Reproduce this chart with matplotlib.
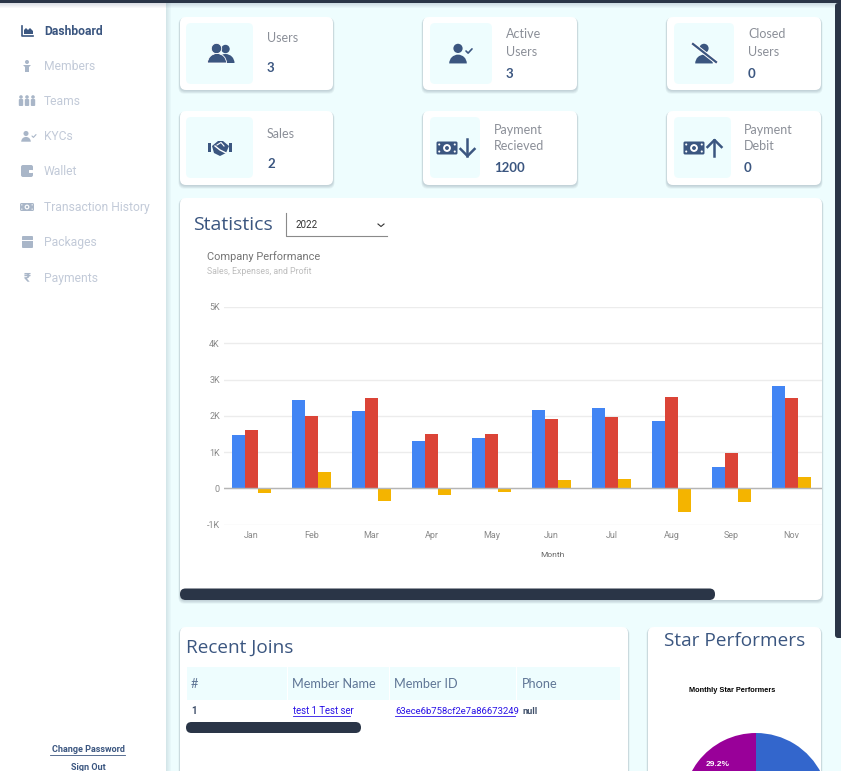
import numpy as np
import matplotlib
matplotlib.use("Agg")
import matplotlib.pyplot as plt
from matplotlib.patches import FancyBboxPatch, Rectangle, Circle, Wedge, Polygon

W = 841
H = 771

# chart values
months = ['Jan', 'Feb', 'Mar', 'Apr', 'May', 'Jun', 'Jul', 'Aug', 'Sep', 'Nov']
sales = [1460, 2440, 2130, 1300, 1380, 2150, 2210, 1850, 590, 2830]
expenses = [1600, 1980, 2500, 1490, 1490, 1910, 1960, 2510, 980, 2500]
profit = [-130, 450, -360, -190, -100, 230, 250, -660, -390, 320]
y_ticks = [-1000, 0, 1000, 2000, 3000, 4000, 5000]
y_labels = ['-1K', '0', '1K', '2K', '3K', '4K', '5K']

pie_values = [70.8, 29.2]
pie_colors = ['#3366cc', '#990099']

menu_items = ['Dashboard', 'Members', 'Teams', 'KYCs', 'Wallet',
              'Transaction History', 'Packages', 'Payments']
menu_y = [31, 66, 101, 136, 171, 207, 242, 278]

table_head = ['#', 'Member Name', 'Member ID', 'Phone']
table_row = ['1', 'test 1 Test ser', '63ece6b758cf2e7a86673249', 'null']

NAVY = '#3b5680'
DARK = '#2a3547'
TILE = '#eefdfe'
GREY = '#8b8f98'
ICON_OFF = '#a9b6c8'
TEXT_OFF = '#c2cad8'

fig = plt.figure(figsize=(W / 100, H / 100), dpi=100, facecolor=TILE)
ax = fig.add_axes([0, 0, 1, 1])
ax.set_xlim(0, W)
ax.set_ylim(H, 0)
ax.axis('off')


def px_axes(left, top, right, bottom):
    return fig.add_axes([left / W, 1 - bottom / H, (right - left) / W, (bottom - top) / H])


def rrect(x0, y0, x1, y1, r, color, z=2, alpha=1):
    p = FancyBboxPatch((x0 + r, y0 + r), x1 - x0 - 2 * r, y1 - y0 - 2 * r,
                       boxstyle='round,pad=%f,rounding_size=%f' % (r, r),
                       fc=color, ec='none', lw=0, alpha=alpha, zorder=z)
    ax.add_patch(p)


def card(x0, y0, x1, y1):
    for i in range(5, 0, -1):
        rrect(x0 - i * 0.3, y0 + 1, x1 + i * 0.3, y1 + i * 0.75, 6, '#4a6072', z=1, alpha=0.06)
    rrect(x0, y0, x1, y1, 6, 'white')


def txt(x, y, s, size=9, color=GREY, weight='normal', family='Nunito', ha='left'):
    fams = {'Nunito': ['Lato', 'DejaVu Sans'], 'Roboto': ['Roboto', 'DejaVu Sans'],
            'Open': ['Open Sans', 'DejaVu Sans'], 'Arial': ['Liberation Sans', 'DejaVu Sans']}
    return ax.text(x, y, s, fontsize=size, color=color, fontweight=weight,
                   family=fams[family], ha=ha, va='center', zorder=6)


def person(x, y, s, color=NAVY, z=5):
    # head and shoulders, y is the middle of the icon
    ax.add_patch(Circle((x, y - 0.42 * s), 0.42 * s, fc=color, ec='none', zorder=z))
    ax.add_patch(Wedge((x, y + 0.95 * s), 0.8 * s, 180, 360, fc=color, ec='none', zorder=z))


def check(x, y, s, color=NAVY, lw=1.2):
    ax.plot([x - s, x - 0.3 * s, x + s], [y, y + 0.7 * s, y - 0.7 * s],
            color=color, lw=lw, zorder=5, solid_capstyle='round')


def money(x, y, w, h, color=NAVY, z=5):
    rrect(x - w / 2, y - h / 2, x + w / 2, y + h / 2, 1.5, color, z=z)
    ax.add_patch(Circle((x, y), h * 0.3, fc='white', ec='none', zorder=z + 1))
    ax.add_patch(Circle((x, y), h * 0.15, fc=color, ec='none', zorder=z + 1))
    for dx in (-w * 0.37, w * 0.37):
        for dy in (-h * 0.27, h * 0.27):
            ax.add_patch(Circle((x + dx, y + dy), h * 0.08, fc='white', ec='none', zorder=z + 1))


def arrow(x, y0, y1, color=NAVY):
    # shaft from y0 to y1, head at y1
    d = 1 if y1 > y0 else -1
    ax.plot([x, x], [y0, y1], color=color, lw=1.8, zorder=5)
    ax.plot([x - 7, x, x + 7], [y1 - d * 7, y1, y1 - d * 7], color=color, lw=1.8, zorder=5)


def menu_icon(i, y, c):
    x = 27
    if i == 0:
        ax.plot([22, 22, 33], [y - 5, y + 5, y + 5], color=c, lw=1.2, zorder=5)
        ax.add_patch(Polygon([[24, y + 3], [24, y - 1], [26, y - 3], [28, y - 1], [30, y - 3],
                              [33, y], [33, y + 3]], fc=c, ec='none', zorder=5))
    elif i == 1:
        ax.add_patch(Circle((x, y - 4), 2, fc=c, ec='none', zorder=5))
        ax.add_patch(Polygon([[x - 4, y - 1], [x + 4, y - 1], [x + 2, y + 1], [x + 2, y + 6],
                              [x - 2, y + 6], [x - 2, y + 1]], fc=c, ec='none', zorder=5))
    elif i == 2:
        for dx in (-6, 0, 6):
            ax.add_patch(Circle((x + dx, y - 4), 1.8, fc=c, ec='none', zorder=5))
            rrect(x + dx - 2.2, y - 2, x + dx + 2.2, y + 5, 1, c, z=5)
    elif i == 3:
        person(x - 1, y, 6, color=c)
        check(x + 7, y, 2, color=c, lw=0.8)
    elif i == 4:
        rrect(21, y - 6, 33, y + 6, 2, c, z=5)
        rrect(29, y - 1, 33, y + 2, 0.5, 'white', z=6)
    elif i == 5:
        money(x, y, 14, 8, color=c)
    elif i == 6:
        rrect(22, y - 3, 33, y + 6, 1, c, z=5)
        rrect(22, y - 6, 33, y - 2, 1, c, z=5)
        ax.plot([22, 33], [y - 2, y - 2], color='white', lw=0.7, zorder=6)
    else:
        txt(x, y, '₹', 9.5, c, 'bold', 'Roboto', ha='center')


# sidebar and top bar
ax.add_patch(Rectangle((0, 0), 166, H, fc='white', ec='none', zorder=1))
for i in range(5):
    ax.add_patch(Rectangle((166 + i, 0), 1, H, fc='#52707f', ec='none', alpha=0.16 - i * 0.03, zorder=1))
    ax.add_patch(Rectangle((0, 3 + i), W, 1, fc='#52607f', ec='none', alpha=0.2 - i * 0.04, zorder=1.5))
ax.add_patch(Rectangle((0, 0), W, 3, fc=DARK, ec='none', zorder=7))

for i, (name, y) in enumerate(zip(menu_items, menu_y)):
    active = i == 0
    menu_icon(i, y, NAVY if active else ICON_OFF)
    txt(44, y + 0.7, name, 8.7, NAVY if active else TEXT_OFF, 'bold' if active else 'normal', 'Roboto')

txt(88, 750, 'Change Password', 6.5, NAVY, 'bold', 'Roboto', ha='center')
ax.plot([50.5, 125.5], [755, 755], color=NAVY, lw=0.6, zorder=6)
txt(88, 767, 'Sign Out', 6.5, NAVY, 'bold', 'Roboto', ha='center')

# stat cards
card(180, 17, 333, 90)
rrect(186, 23, 253, 84, 5, TILE, z=3)
ax.add_patch(Circle((225.5, 49), 4.2, fc=NAVY, ec='none', zorder=5))
ax.add_patch(Wedge((226, 62), 6.5, 180, 360, fc=NAVY, ec='none', zorder=5))
ax.add_patch(Wedge((225.5, 63), 9, 180, 360, fc=NAVY, ec='none', zorder=5))
ax.add_patch(Circle((216.5, 48.5), 5.2, fc=NAVY, ec='white', lw=0.6, zorder=6))
ax.add_patch(Wedge((217, 63), 9.5, 180, 360, fc=NAVY, ec='white', lw=0.6, zorder=6))
txt(267, 38.5, 'Users', 9)
txt(267, 68.5, '3', 9.5, NAVY, 'bold')

card(423, 17, 577, 90)
rrect(430, 23, 492, 84, 5, TILE, z=3)
person(458, 53, 11)
check(469, 51, 3)
txt(506, 34.5, 'Active', 9)
txt(506, 51.5, 'Users', 9)
txt(506, 73.5, '3', 9.5, NAVY, 'bold')

card(667, 17, 821, 90)
rrect(674, 23, 734, 84, 5, TILE, z=3)
person(704, 53, 11)
ax.plot([693, 716], [44, 62], color='white', lw=3, zorder=6)
ax.plot([693, 716], [44, 62], color=NAVY, lw=1.6, zorder=6)
txt(748, 34.5, 'Closed', 9)
txt(748, 51.5, 'Users', 9)
txt(748, 73.5, '0', 9.5, NAVY, 'bold')

card(180, 111, 333, 185)
rrect(186, 117, 253, 178, 5, TILE, z=3)
ax.add_patch(Polygon([[212, 146], [218, 141], [223, 141], [229, 146], [226, 153], [220, 156], [214, 153]],
                     fc=NAVY, ec='none', zorder=5))
ax.plot([215, 220, 226], [146, 150, 153], color='white', lw=1, zorder=6)
ax.plot([217, 221, 224], [145, 142.5, 146], color='white', lw=0.8, zorder=6)
ax.add_patch(Rectangle((208.5, 143), 2.5, 9, fc=NAVY, ec='none', zorder=5))
ax.add_patch(Rectangle((229.5, 143), 2.5, 9, fc=NAVY, ec='none', zorder=5))
txt(267, 133.5, 'Sales', 9)
txt(267, 163.5, '2', 9.5, NAVY, 'bold')

card(423, 111, 577, 185)
rrect(430, 117, 480, 178, 5, TILE, z=3)
money(447, 148, 21, 13)
arrow(467.5, 139, 156)
txt(494, 129.5, 'Payment', 9)
txt(494, 145.5, 'Recieved', 9)
txt(494, 167.5, '1200', 9.5, NAVY, 'bold')

card(667, 111, 821, 185)
rrect(674, 117, 731, 178, 5, TILE, z=3)
money(694, 148, 21, 13)
arrow(714.5, 156, 140)
txt(744, 129.5, 'Payment', 9)
txt(744, 145.5, 'Debit', 9)
txt(744, 167.5, '0', 9.5, NAVY, 'bold')

# statistics card
card(180, 198, 822, 600)
txt(193, 225.5, 'Statistics', 14, NAVY, family='Open')
ax.plot([286, 286, 387], [213, 235.5, 235.5], color='#8a8a8a', lw=0.8, zorder=6)
txt(296, 225, '2022', 7, '#333333', family='Roboto')
ax.plot([378, 381, 384], [224, 226.5, 224], color='#333333', lw=0.8, zorder=6)
txt(207, 257, 'Company Performance', 7.9, '#757575', family='Roboto')
txt(207, 272, 'Sales, Expenses, and Profit', 6.3, '#bdbdbd', family='Roboto')
txt(552, 555, 'Month', 6, '#666666', family='Roboto', ha='center')

chart = px_axes(224, 307, 822, 524.5)
chart.patch.set_alpha(0)
xs = np.arange(len(months))
bw = 0.208
off = 0.2167
chart.bar(xs - off, sales, bw, color='#4285f4', zorder=3)
chart.bar(xs, expenses, bw, color='#db4437', zorder=3)
chart.bar(xs + off, profit, bw, color='#f4b400', zorder=3)
chart.set_xlim(-0.458, 9.508)
chart.set_ylim(-1000, 5000)
chart.set_yticks(y_ticks)
chart.set_yticklabels(y_labels, fontsize=6.5, color='#8a8a8a', family='Roboto')
chart.set_xticks(xs)
chart.set_xticklabels(months, fontsize=6.5, color='#8a8a8a', family='Roboto')
chart.tick_params(length=0, pad=3)
chart.tick_params(axis='x', pad=5)
chart.grid(axis='y', color='#ececec', lw=1, zorder=0)
chart.axhline(0, color='#b5b5b5', lw=1, zorder=4)
for s in chart.spines.values():
    s.set_visible(False)

rrect(180, 588.5, 715, 600, 5.5, DARK, z=8)

# recent joins card
card(180, 627, 628, 800)
txt(186, 648, 'Recent Joins', 13.7, NAVY, family='Open')
col_x = [187, 288.5, 390.5, 517.5, 621]
for i in range(4):
    ax.add_patch(Rectangle((col_x[i], 667), col_x[i + 1] - col_x[i] - 1, 33, fc=TILE, ec='none', zorder=3))
    txt(col_x[i] + 4, 684, table_head[i], 9.2, '#5f7696')
txt(191, 711, table_row[0], 7, '#40506b', 'bold', 'Roboto')
txt(293, 711, table_row[1], 6.9, '#2a12e6', family='Roboto')
ax.plot([293, 350], [716, 716], color='#2a12e6', lw=0.6, zorder=6)
txt(395, 711, table_row[2], 6.8, '#2a12e6', family='Roboto')
ax.plot([395, 515], [716, 716], color='#2a12e6', lw=0.6, zorder=6)
txt(523, 711, table_row[3], 6.6, '#40506b', 'bold', 'Roboto')
rrect(186, 722, 361, 733, 5.5, DARK, z=8)

# star performers card
card(648, 627, 821, 800)
txt(734.5, 640.5, 'Star Performers', 13.7, NAVY, family='Open', ha='center')
txt(732, 690.5, 'Monthly Star Performers', 5.3, 'black', 'bold', 'Arial', ha='center')

pie_ax = px_axes(683, 733, 829, 879)
pie_ax.pie(pie_values, colors=pie_colors, startangle=90, counterclock=False, radius=1)
pie_ax.set_xlim(-1, 1)
pie_ax.set_ylim(-1, 1)
pie_ax.text(-0.53, 0.57, '%.1f%%' % pie_values[1], color='white', fontsize=6, fontweight='bold',
            family=['Liberation Sans'], ha='center', va='center')

# page scrollbar
rrect(835, 3, 845, 638, 3, DARK, z=8)

fig.savefig('out.png', dpi=100, facecolor=fig.get_facecolor())
